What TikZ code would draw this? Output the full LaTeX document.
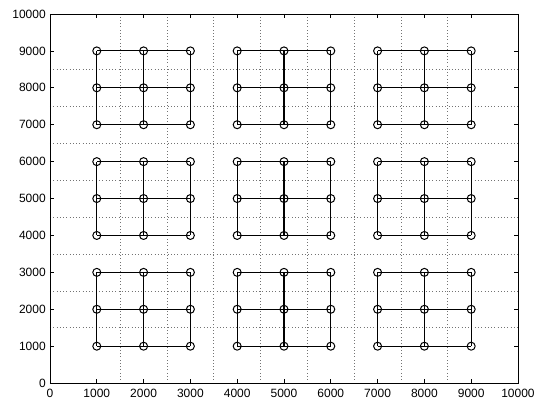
\documentclass[tikz,border=0pt]{standalone}
\usepackage{fontspec}
\setmainfont{Liberation Sans}
\usetikzlibrary{positioning}

\begin{document}
\begin{tikzpicture}[
  x=0.0351pt,y=0.027675pt,
  vertex/.style={circle,draw,line width=0.75pt,inner sep=0pt,minimum size=6pt},
  link/.style={line width=0.85pt},
  gridline/.style={dotted,black!55,line width=0.45pt},
  ticklabel/.style={font=\fontsize{9}{10}\selectfont,inner sep=0pt}
]
\useasboundingbox (-1068,-434) rectangle (10620,10379);
% dotted grid
\foreach \g in {1500,2500,...,8500} {
  \draw[gridline] (\g,0) -- (\g,10000);
  \draw[gridline] (0,\g) -- (10000,\g);
}
% axes box, ticks and labels
\draw[line width=0.6pt] (0,0) rectangle (10000,10000);
\foreach \t in {0,1000,...,10000} {
  \draw[line width=0.5pt] (\t,0) -- ++(0pt,3pt) (\t,10000) -- ++(0pt,-3pt);
  \draw[line width=0.5pt] (0,\t) -- ++(3pt,0pt) (10000,\t) -- ++(-3pt,0pt);
  \node[ticklabel,anchor=north,yshift=-4.5pt] (xl\t) at (\t,0) {\t};
  \node[ticklabel,anchor=east,xshift=-3pt] (yl\t) at (0,\t) {\t};
}
% 3x3 blocks of vertices
\foreach \bx in {0,3000,6000} {
  \foreach \by in {0,3000,6000} {
    \foreach \i in {1,2,3} {
      \foreach \j in {1,2,3} {
        \pgfmathtruncatemacro{\px}{\bx+1000*\i}
        \pgfmathtruncatemacro{\py}{\by+1000*\j}
        \node[vertex] (v\px-\py) at (\px,\py) {};
      }
    }
  }
}
% links inside each block
\foreach \bx in {0,3000,6000} {
  \foreach \by in {0,3000,6000} {
    \foreach \k in {1,2,3} {
      \pgfmathtruncatemacro{\xa}{\bx+1000}
      \pgfmathtruncatemacro{\xc}{\bx+3000}
      \pgfmathtruncatemacro{\ya}{\by+1000}
      \pgfmathtruncatemacro{\yc}{\by+3000}
      \pgfmathtruncatemacro{\xk}{\bx+1000*\k}
      \pgfmathtruncatemacro{\yk}{\by+1000*\k}
      \draw[link] (v\xa-\yk.center) -- (v\xc-\yk.center);
      \draw[link] (v\xk-\ya.center) -- (v\xk-\yc.center);
    }
  }
}
\end{tikzpicture}
\end{document}
